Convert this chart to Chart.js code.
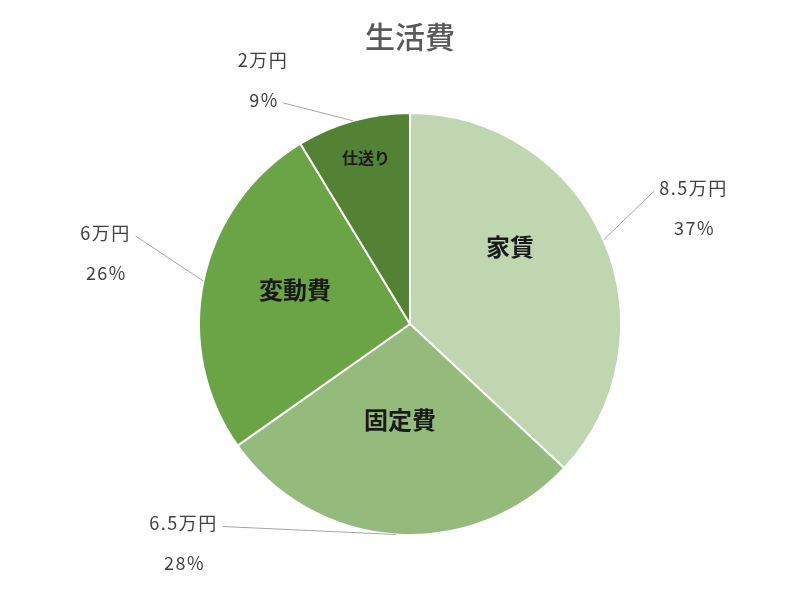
<!DOCTYPE html>
<html>
<head>
<meta charset="utf-8">
<script src="https://cdn.jsdelivr.net/npm/chart.js@4.4.1/dist/chart.umd.min.js"></script>
<style>
  html, body { margin: 0; padding: 0; background: #fff; }
  #wrap { width: 800px; height: 600px; }
</style>
</head>
<body>
<div id="wrap"><canvas id="costChart" width="800" height="600"></canvas></div>
<script>
// monthly living costs (万円)
const categories = ['家賃', '固定費', '変動費', '仕送り'];
const amounts = [8.5, 6.5, 6, 2];
const valueLabels = ['8.5万円', '6.5万円', '6万円', '2万円'];
const percentLabels = ['37%', '28%', '26%', '9%'];
const sliceColors = ['#bfd6b0', '#94bb7b', '#6aa445', '#548235'];

// label layout: outside label offset from the arc edge, inner label offset from centre
const outsideOffset = [[90, -52], [-212, -11], [-98, -48], [-90, -61]];
const leaderLine = [0, 0, 0, 1];
const innerOffset = [[100, -77], [-10, 96], [-115, -34], [-44, -166]];
const innerSize = [24, 24, 24, 16];

const FONT = '"Noto Sans CJK JP", "Noto Sans", sans-serif';

const labelPlugin = {
  id: 'pieLabels',
  afterDraw(chart) {
    const ctx = chart.ctx;
    const meta = chart.getDatasetMeta(0);

    ctx.save();
    ctx.fillStyle = '#595959';
    ctx.font = '500 30px ' + FONT;
    ctx.textAlign = 'center';
    ctx.textBaseline = 'middle';
    ctx.fillText('生活費', 410, 37);

    meta.data.forEach((arc, i) => {
      const mid = (arc.startAngle + arc.endAngle) / 2;
      const ex = arc.x + Math.cos(mid) * arc.outerRadius;
      const ey = arc.y + Math.sin(mid) * arc.outerRadius;
      const tx = ex + outsideOffset[i][0];
      const ty = ey + outsideOffset[i][1];

      ctx.font = '18px ' + FONT;
      ctx.letterSpacing = '1.5px';
      const lineY = ty + leaderLine[i] * 40;
      const w = ctx.measureText(leaderLine[i] ? percentLabels[i] : valueLabels[i]).width;
      const side = tx > ex ? -1 : 1;
      const lx = tx + side * (w / 2 + 5);

      ctx.strokeStyle = '#a6a6a6';
      ctx.lineWidth = 1;
      ctx.beginPath();
      ctx.moveTo(ex, ey);
      ctx.lineTo(lx, lineY + 3);
      ctx.stroke();

      ctx.fillStyle = '#404040';
      ctx.fillText(valueLabels[i], tx, ty);
      ctx.fillText(percentLabels[i], tx + 1, ty + 40);

      ctx.letterSpacing = '0px';
      ctx.fillStyle = '#1a1a1a';
      ctx.font = 'bold ' + innerSize[i] + 'px ' + FONT;
      ctx.fillText(categories[i], arc.x + innerOffset[i][0], arc.y + innerOffset[i][1]);
    });
    ctx.restore();
  }
};

new Chart(document.getElementById('costChart'), {
  type: 'pie',
  data: {
    labels: categories,
    datasets: [{
      data: amounts,
      backgroundColor: sliceColors,
      borderColor: '#ffffff',
      borderWidth: 2
    }]
  },
  options: {
    responsive: false,
    animation: false,
    layout: { padding: { top: 112, bottom: 64, left: 198, right: 178 } },
    plugins: {
      legend: { display: false },
      title: { display: false },
      tooltip: { enabled: false }
    }
  },
  plugins: [labelPlugin]
});
</script>
</body>
</html>
